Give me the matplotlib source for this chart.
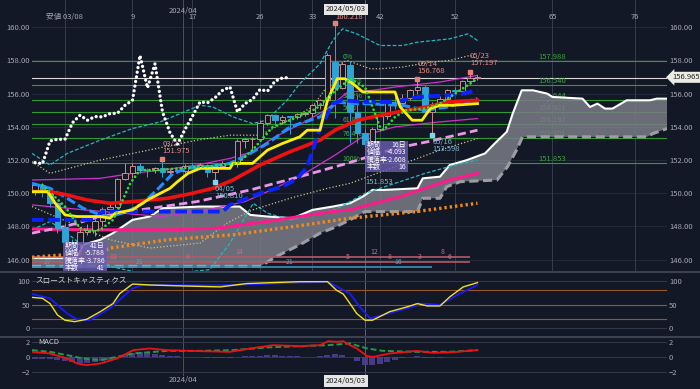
import matplotlib
matplotlib.use('Agg')
import matplotlib.pyplot as plt
import matplotlib.transforms as mtrans
from matplotlib.patches import Rectangle

plt.rcParams['font.family'] = ['Noto Sans CJK JP', 'DejaVu Sans']

# ---------------- data ----------------
BARS = list(range(-4, 56))
OPEN = [150.10,150.50,150.05,149.40,147.95,147.06,146.95,147.68,147.77,148.33,
        149.05,149.15,150.85,151.25,151.62,151.42,151.40,151.55,151.30,151.35,
        151.35,151.65,151.55,151.68,151.30,151.62,151.85,151.78,153.15,153.25,
        153.25,154.25,154.70,154.40,154.62,154.60,154.80,154.82,155.30,155.60,
        157.90,156.35,157.70,154.90,153.65,152.95,153.85,154.65,155.50,155.45,
        155.75,156.20,156.40,154.90,155.40,155.65,156.25,156.15,156.75,156.95]
HIGH = [150.55,150.60,150.30,149.50,148.20,147.25,147.90,148.15,148.45,149.15,
        149.35,150.95,151.80,151.85,151.85,151.50,151.60,151.97,151.45,151.45,
        151.75,151.80,151.80,151.75,151.75,151.95,151.95,153.25,153.30,153.40,
        154.40,154.80,154.80,154.70,154.65,154.85,154.90,155.40,155.70,158.45,
        160.22,157.90,157.98,155.90,153.90,154.00,154.75,155.60,155.95,155.95,
        156.30,156.77,156.50,155.50,155.85,156.30,156.40,156.85,157.20,157.10]
LOW = [149.90,149.80,149.20,147.60,146.48,146.55,146.60,147.50,147.40,148.00,
       148.95,149.10,150.80,150.90,151.20,151.00,151.20,151.00,151.10,151.20,
       151.20,151.50,151.50,151.00,150.81,151.60,151.60,151.60,152.70,152.60,
       153.15,154.10,154.20,154.20,153.60,154.50,154.65,154.60,155.10,155.40,
       154.55,156.30,153.00,153.00,151.86,152.85,153.75,154.50,155.10,155.20,
       155.60,156.00,154.70,153.60,155.20,155.40,155.90,156.05,156.60,156.80]
CLOSE = [150.50,150.05,149.40,147.90,147.06,146.95,147.68,147.77,148.33,149.05,
         149.15,150.85,151.25,151.62,151.42,151.40,151.55,151.30,151.35,151.35,
         151.65,151.55,151.68,151.30,151.62,151.85,151.78,153.15,153.25,153.25,
         154.25,154.70,154.40,154.62,154.60,154.80,154.82,155.30,155.60,158.30,
         156.35,157.80,154.90,153.65,152.95,153.85,154.65,155.50,155.45,155.75,
         156.20,156.40,154.90,155.40,155.65,156.25,156.15,156.75,156.95,156.965]
LAG = 25  # lagging span plotted this many bars back

TENKAN_X = [-4.3,-2.3,-1.3,0,1.6,4.7,6,6.7,9,11,14,15,16.4,18,22,22.4,25,27,29,31.3,32.3,34,35,36.3,37.3,38.4,39.7,44,44.7,46.3,47.6,48.7,50,51.7,55]
TENKAN_Y = [150.1,150.1,149.4,148.7,148.6,148.6,148.5,148.8,149.0,149.6,150.3,150.7,151.2,151.5,151.5,151.8,151.8,152.6,153.0,153.4,153.8,153.8,155.6,156.9,156.9,156.6,156.1,156.1,155.2,154.4,154.4,155.1,155.3,155.3,155.4]
KIJUN_X = [-4.4,4,5,21,22,26,29,31,32.3,34,35.7,37,40,44,47,51,53,55]
KIJUN_Y = [148.4,148.4,148.9,148.9,149.3,150.0,150.4,150.9,151.6,153.9,155.4,155.6,155.5,155.5,155.8,155.9,156.0,156.2]
RED_X = [-4.3,-2,0.3,2.9,6,9,13.7,17,19.7,22.4,26,30,34,36,38,39,42,45.6,48.3,51,55]
RED_Y = [150.1,150.1,149.9,149.6,149.4,149.5,149.7,150.0,150.3,150.8,151.7,152.5,153.2,153.8,154.2,154.4,154.7,155.0,155.2,155.5,155.6]
LBLUE_X = [-4.4,-2,0.3,2.4,4.7,6,8.3,10.4,12.7,14.4,16.3,19,22,24.7,27,30,34,36.3,38,40,45,48,51,55]
LBLUE_Y = [150.6,150.3,149.7,149.1,148.7,148.6,148.9,149.4,150.4,151.2,151.5,151.6,151.8,152.4,153.0,154.0,154.6,155.5,155.4,155.4,155.3,155.0,155.2,155.7]
GREEN_X = [-3,-2.3,0,2,3.3,4.7,6.4,7.7,8.7,10,12.3,15.3,18.4,21,23,25,27.7,30,33.5,35.6,38,40,41,42,42.5,44,45.5,48,50,52,54,55]
GREEN_Y = [150.5,150.2,149.2,147.9,147.7,147.8,148.4,149.6,150.6,151.4,151.4,151.5,151.6,151.7,151.8,152.6,154.0,154.4,155.1,156.0,156.9,156.4,155.2,154.0,153.8,154.6,155.0,155.1,155.4,156.0,156.6,156.9]
MAGUP_X = [-4.4,4.7,9,13,17.6,22,25,28,32,35,37.7,41,44,50,55]
MAGUP_Y = [150.8,150.9,151.2,151.4,151.7,152.1,152.5,153.4,154.3,155.1,156.1,156.2,156.4,156.7,157.1]
MAGLO_X = [-4.4,5,13,19,24,28,32,36,40,44,50,55]
MAGLO_Y = [149.3,148.9,148.6,149.0,149.5,150.3,151.2,152.3,153.5,154.0,154.3,154.5]
PINKD_X = [-4.4,0,4.7,10,17.6,24.7,31.3,37.6,44,48.3,55]
PINKD_Y = [147.6,148.0,148.6,149.0,149.5,150.2,151.0,151.8,152.7,153.1,153.8]
DPINK_X = [-4.4,4.7,13.7,20.3,26.9,35.6,38,44.7,51.3,55]
DPINK_Y = [147.85,147.8,147.8,147.9,148.3,148.9,149.0,149.8,150.8,151.2]
ORANGE_X = [-4.4,4.7,6,13.7,22.4,31.3,38,46.9,55]
ORANGE_Y = [146.15,146.45,146.7,147.2,147.5,148.05,148.5,148.9,149.4]
CYUP_X = [-4.4,-2,0.3,4.7,9,12.7,18,19.7,22.4,25,26.9,29.6,31.3,34,35.7,37,38.9,42,45,47,51.3,53.7,55]
CYUP_Y = [152.4,151.7,152.4,153.2,153.9,154.3,155.3,155.2,154.6,154.2,154.4,155.6,156.6,157.8,159.2,159.9,159.6,158.9,158.9,159.1,159.3,159.6,159.2]
CYLO_X = [-4.4,-2,0,3,6,10,15,19.3,22,25.1,27,30,33,36,40,44,48,52,55]
CYLO_Y = [147.8,148.3,147.7,146.6,145.6,145.2,145.2,145.4,147.0,149.4,148.8,148.4,148.7,149.0,150.0,150.6,151.2,151.7,152.0]
KHUP_X = [-4.4,-2,4.7,17.6,22,26,29,33,34.9,36.7,37.6,40.7,42,45,48.7,51.3,54,55]
KHUP_Y = [151.9,151.2,152.0,153.2,153.5,153.5,154.2,155.2,156.4,157.8,158.0,157.5,157.5,157.6,157.9,158.0,158.3,158.1]
KHLO_X = [-4.4,6,11.3,18,21.6,25,30,35,38,44,50,55]
KHLO_Y = [149.2,147.2,146.7,147.0,148.2,149.0,149.7,150.3,150.6,151.6,152.6,153.3]
SPANA_X = [-4.4,0,1.5,2.4,4.7,6.4,9,11.3,13,18,23.3,24.7,27,30.4,33,35.7,38,39.7,41,42.4,47,47.7,50,51.3,53.6,56,57.3,58.9,59.7,60.9,62.4,64.3,65,69,70,71,72,73,74.9,78,78.9,80.27]
SPANA_Y = [146.1,146.1,146.0,146.9,147.2,147.6,148.4,148.6,149.1,149.2,149.2,148.7,148.6,148.5,149.0,149.2,149.4,149.8,150.2,150.2,150.3,150.9,151.0,151.7,152.0,152.4,153.0,153.7,154.8,156.2,156.2,156.0,155.8,155.7,155.2,155.4,155.1,155.1,155.6,155.6,155.7,155.7]
SPANB_X = [-4.4,26,28.2,31.3,34,35.7,38,40,47,47.7,50,50.9,52.7,57.6,59,60.2,61,77.6,78.4,80.27]
SPANB_Y = [145.6,145.6,146.2,146.9,147.6,147.9,148.4,148.9,148.9,149.7,149.7,150.4,150.7,150.8,151.6,152.6,153.4,153.4,153.6,153.9]

FIB_LEVELS = [157.988,156.540,155.644,154.921,154.197,153.301,151.853]
FIB_NAMES = ['0%','23.6%','38.2%','50%','61.8%','76.4%','100%']
LAST_PRICE = 156.965

COUNT_BARS = [0,9,17,26,33,42,52,65,76]
COUNT_LABELS = ['安値 03/08','9','17','26','33','42','52','65','76']
MONTH_BAR = 15.7
CROSS_BAR = 40

HIGH_MARKS = [(13,152.05,'03/27','151.975'),(47,156.87,'05/14','156.768'),(54,157.33,'05/23','157.197')]
LOW_MARKS = [(20,150.70,'04/05','150.810'),(49,153.50,'05/16','153.598')]

# wave count bars at the bottom of the price panel
WAVE_PINK1 = (146.18, 54.0, [(23.3,'14'),(41.3,'12'),(50.4,'8')])
WAVE_PINK2 = (145.88, 54.0, [(6.4,'13'),(16.4,'8'),(37.7,'5'),(43.3,'8'),(47.3,'3'),(51.3,'6')])
WAVE_BLUE = (145.56, 49.0, [(-2.3,'27'),(10,'21'),(30,'21'),(44.4,'16')])

BOX1 = ['期間','41日','値幅','-5.788','騰落率','-3.786','本数','41']
BOX2 = ['期間','16日','値幅','-4.093','騰落率','-2.608','本数','16']

STK_X = [-4.4,-3,-2,-1,0,1.3,2.9,4.7,6.4,7.3,9,11.3,15.7,20.7,24.2,31.3,35,36.2,37.1,38,38.9,40,41,43.3,45.6,47,48.3,50,51.3,53.1,55]
STK_K = [65,63,52,28,17,14,19,35,52,73,93,91,89,87,94,98,98,80,72,52,31,17,17,35,45,52,47,47,66,87,96]
STD_X = [-4.4,-2,0.3,1.6,3.3,6,9,10.4,20,35,38,39.3,40.7,42.4,45.6,47.7,50,52.3,55]
STD_D = [72,63,31,19,17,42,84,91,90,98,73,45,21,28,42,52,49,70,91]

MACD_X = [-4.4,-2,0.3,1.6,2.9,4.7,6.9,9.1,11.3,13.6,18,22,24.7,27.7,31.3,34,35.1,36.3,37.1,38,38.9,40.3,41.1,43.3,46.9,49.1,52.3,55]
MACD_Y = [0.72,0.5,-0.18,-0.85,-1.08,-0.85,-0.18,0.95,1.17,0.95,0.81,0.72,1.17,1.62,1.49,1.62,2.16,2.07,2.16,1.62,1.17,0.14,0.04,0.5,0.85,0.58,0.72,0.95]
SIG_X = [-4.4,-2,0.3,2.4,4.7,6.9,9.1,13.6,18,22.4,26.9,31.3,35.1,38,40.3,42.4,46.9,51.3,55]
SIG_Y = [0.95,0.72,0.27,-0.18,-0.4,0.04,0.5,0.85,0.85,0.95,1.31,1.49,1.62,1.85,1.17,0.85,0.72,0.72,0.95]
HIST = [-0.2,-0.2,-0.25,-0.35,-0.5,-0.65,-0.75,-0.8,-0.7,-0.55,
        -0.35,-0.1,0.3,0.55,0.65,0.6,0.45,0.3,0.2,0.12,
        0.08,0.05,0.0,-0.05,-0.08,-0.1,-0.1,0.05,0.1,0.15,
        0.2,0.25,0.25,0.2,0.15,0.1,0.05,0.05,0.1,0.35,
        0.4,0.35,0.0,-0.5,-1.0,-1.1,-0.9,-0.6,-0.35,-0.15,
        0.0,0.1,-0.05,-0.1,-0.05,0.0,0.05,0.05,0.05,0.05]

# ---------------- style ----------------
BG = '#131826'
TICK = '#a3a8b2'
GRID = '#262d3c'
VLINE = '#363d4d'
UPC = '#c98b8b'
DNC = '#2ea3d6'
W, H = 700, 389

fig = plt.figure(figsize=(7, 3.89), dpi=100)
fig.patch.set_facecolor(BG)


def rect(top, bottom):
    return [32 / W, 1 - bottom / H, 635 / W, (bottom - top) / H]


ax = fig.add_axes(rect(0, 271))
axs = fig.add_axes(rect(272, 336.7))
axm = fig.add_axes(rect(337, 376))
for a in (ax, axs, axm):
    a.set_facecolor(BG)
    a.set_xlim(-4.4, 80.27)
    for s in a.spines.values():
        s.set_visible(False)
    a.set_xticks([])
    a.tick_params(axis='y', length=0, labelsize=5.5, labelcolor=TICK,
                  labelleft=True, labelright=True, pad=1.5)

ax.set_ylim(145.32, 161.64)
ax.set_yticks(range(146, 161, 2))
ax.set_yticklabels([f'{v:.2f}' for v in range(146, 161, 2)])
for v in range(146, 161, 2):
    ax.axhline(v, color=GRID, lw=0.6, zorder=0)

axs.set_ylim(-17.6, 118.3)
axs.set_yticks([0, 50, 100])
axm.set_ylim(-2.54, 2.72)
axm.set_yticks([-2, 0, 2])

# vertical lines
for b in COUNT_BARS:
    ax.axvline(b, color=VLINE, lw=0.7, zorder=0.5)
for a in (ax, axs, axm):
    a.axvline(MONTH_BAR, color='#4a5162', lw=0.7, zorder=0.5)
    a.axvline(CROSS_BAR, color='#5c6374', lw=0.7, zorder=0.5)

# fibonacci + last price
for lvl, name in zip(FIB_LEVELS, FIB_NAMES):
    ax.axhline(lvl, color='#2f9a2f', lw=0.8, zorder=0.8)
    ax.text(37, lvl + 0.12, name, color='#46b046', fontsize=5, zorder=1)
    ax.text(65, lvl + 0.12, f'{lvl:.3f}', color='#3aa43a', fontsize=5.5, ha='center', zorder=1)
ax.axhline(LAST_PRICE, color='#d8d8d8', lw=0.8, zorder=0.9)

# ichimoku cloud
ax.fill(SPANA_X + SPANB_X[::-1], SPANA_Y + SPANB_Y[::-1], color='#7a7d87', alpha=0.85, lw=0, zorder=1)
ax.plot(SPANA_X, SPANA_Y, color='white', lw=1.5, zorder=1.2)
ax.plot(SPANB_X, SPANB_Y, color='#9c9ea4', lw=2.2, dashes=(3, 1.5), zorder=1.2)

# wave count bars
for (lvl, end, labs), col, tcol in ((WAVE_PINK1, '#b35a68', '#c8707e'),
                                    (WAVE_PINK2, '#b35a68', '#c8707e'),
                                    (WAVE_BLUE, '#3e8fb3', '#55a3c4')):
    ax.hlines(lvl, -4.4, end, color=col, lw=1.2, zorder=1.3)
    for xb, t in labs:
        ax.text(xb, lvl + 0.05, t, color=tcol, fontsize=5, ha='center', va='bottom', zorder=1.3)

# thin bands
ax.plot(CYUP_X, CYUP_Y, color='#22b8c2', lw=0.9, dashes=(3, 1.5), zorder=2)
ax.plot(CYLO_X, CYLO_Y, color='#22b8c2', lw=0.9, dashes=(3, 1.5), zorder=2)
ax.plot(KHUP_X, KHUP_Y, color='#c9c08e', lw=0.9, ls=':', zorder=2)
ax.plot(KHLO_X, KHLO_Y, color='#c9c08e', lw=0.9, ls=':', zorder=2)
ax.plot(MAGUP_X, MAGUP_Y, color='#cc33cc', lw=0.9, zorder=2)
ax.plot(MAGLO_X, MAGLO_Y, color='#cc33cc', lw=0.9, zorder=2)

# thick averages
ax.plot(ORANGE_X, ORANGE_Y, color='#f08a1c', lw=2.4, dashes=(0.7, 0.9), zorder=2.5)
ax.plot(DPINK_X, DPINK_Y, color='#ff1a8c', lw=2.2, zorder=2.5)
ax.plot(PINKD_X, PINKD_Y, color='#e996e9', lw=2.0, dashes=(3, 1.5), zorder=2.5)

# candles
ax.vlines(BARS, LOW, HIGH, colors=[UPC if c >= o else DNC for o, c in zip(OPEN, CLOSE)],
          lw=0.7, zorder=3)
ax.bar(BARS, [max(abs(c - o), 0.03) for o, c in zip(OPEN, CLOSE)],
       bottom=[min(o, c) for o, c in zip(OPEN, CLOSE)], width=0.72,
       color=[BG if c >= o else DNC for o, c in zip(OPEN, CLOSE)],
       edgecolor=[UPC if c >= o else DNC for o, c in zip(OPEN, CLOSE)],
       lw=0.7, zorder=3.1)

ax.plot(LBLUE_X, LBLUE_Y, color='#1f8fff', lw=2.2, dashes=(3, 1.2), zorder=4)
ax.plot(RED_X, RED_Y, color='#ee1111', lw=2.6, zorder=4.1)
ax.plot(KIJUN_X, KIJUN_Y, color='#0a22ff', lw=2.8, dashes=(3, 1.2), zorder=4.2)
ax.plot(TENKAN_X, TENKAN_Y, color='#ffee00', lw=2.0, zorder=4.3)
ax.plot(GREEN_X, GREEN_Y, color='#2ee02e', lw=2.0, dashes=(0.01, 1.6),
        dash_capstyle='round', zorder=4.4)
ax.plot(BARS[:-LAG], CLOSE[LAG:], color='white', lw=2.4, dashes=(0.01, 1.4),
        dash_capstyle='round', zorder=4.5)

# high / low markers
for xb, yv, d, p in HIGH_MARKS:
    ax.plot(xb, yv, 's', ms=2.6, color='#e8807a', zorder=5)
    ax.text(xb, yv + 0.25, p, color='#e08a84', fontsize=5.5, ha='left', va='bottom', zorder=5)
    ax.text(xb, yv + 0.68, d, color='#e08a84', fontsize=5.5, ha='left', va='bottom', zorder=5)
ax.plot(36, 160.27, 's', ms=2.6, color='#e8807a', zorder=5)
ax.text(36, 160.4, '160.218', color='#e08a84', fontsize=5.5, ha='left', va='bottom', zorder=5)
for xb, yv, d, p in LOW_MARKS:
    ax.plot(xb, yv, 's', ms=2.6, color='#7fd6ee', zorder=5)
    ax.text(xb, yv - 0.2, d, color='#7ab8cc', fontsize=5.5, ha='left', va='top', zorder=5)
    ax.text(xb, yv - 0.6, p, color='#7ab8cc', fontsize=5.5, ha='left', va='top', zorder=5)
ax.text(40, 150.95, '151.853', color='#7ab8cc', fontsize=5.5, ha='left', va='top', zorder=5)

# top labels
tb = mtrans.blended_transform_factory(ax.transData, ax.transAxes)
for b, t in zip(COUNT_BARS, COUNT_LABELS):
    ax.text(b, 1 - 17 / 271, t, transform=tb, color=TICK, fontsize=5.5, ha='center', va='center')
ax.text(MONTH_BAR, 1 - 10.5 / 271, '2024/04', transform=tb, color=TICK, fontsize=5.5,
        ha='center', va='center')


def fx(x):
    return x / W


def fy(y):
    return 1 - y / H


fig.text(fx(346), fy(9.5), '2024/05/03', color='#222', fontsize=5.5, ha='center', va='center',
         bbox=dict(boxstyle='square,pad=0.25', fc='#e6e6e6', ec='none'))
fig.text(fx(346), fy(381), '2024/05/03', color='#222', fontsize=5.5, ha='center', va='center',
         bbox=dict(boxstyle='square,pad=0.25', fc='#e6e6e6', ec='none'))
fig.text(fx(182.7), fy(380), '2024/04', color=TICK, fontsize=5.5, ha='center', va='center')
fig.text(fx(672), fy(77.3), '156.965', color='#222', fontsize=5.5, ha='left', va='center',
         bbox=dict(boxstyle='larrow,pad=0.2', fc='#ecebe4', ec='none'))

# info boxes
for (x0, y0, x1, y1), items in (((63, 242, 107, 272), BOX1), ((365, 141, 408, 172), BOX2)):
    fig.add_artist(Rectangle((fx(x0), fy(y1)), fx(x1 - x0), (y1 - y0) / H,
                             transform=fig.transFigure, fc='#6a5cb0', alpha=0.8, ec='none'))
    for i in range(4):
        yy = y0 + 4 + i * 7.3
        fig.text(fx(x0 + 2), fy(yy), items[2 * i], color='white', fontsize=5, va='center')
        fig.text(fx(x1 - 2), fy(yy), items[2 * i + 1], color='white', fontsize=5, va='center', ha='right')

# separators
for y in (271.5, 337):
    fig.add_artist(plt.Line2D([0, 1], [fy(y), fy(y)], transform=fig.transFigure,
                              color='#3b4150', lw=1.5))

# stochastics
for v in (0, 100):
    axs.axhline(v, color='#343a48', lw=0.7)
for v in (20, 50, 80):
    axs.axhline(v, color='#9a5520', lw=0.8)
axs.plot(STD_X, STD_D, color='#1a1aff', lw=1.3, zorder=3)
axs.plot(STK_X, STK_K, color='#f0e020', lw=1.0, zorder=4)
axs.text(-4.0, 100, 'スローストキャスティクス', color='#d0d0d0', fontsize=5.5, va='center')

# macd
for v in (-2, 0, 2):
    axm.axhline(v, color='#343a48', lw=0.7)
axm.bar(BARS, HIST, width=0.8, color='#4d3f94', alpha=0.9, zorder=2)
axm.plot(SIG_X, SIG_Y, color='#1f9a4a', lw=1.4, dashes=(3, 1.5), zorder=3)
axm.plot(MACD_X, MACD_Y, color='#ee1111', lw=1.3, zorder=4)
axm.text(-3.5, 2, 'MACD', color='#d0d0d0', fontsize=5.5, va='center')

fig.savefig('out.png', dpi=100, facecolor=BG)
